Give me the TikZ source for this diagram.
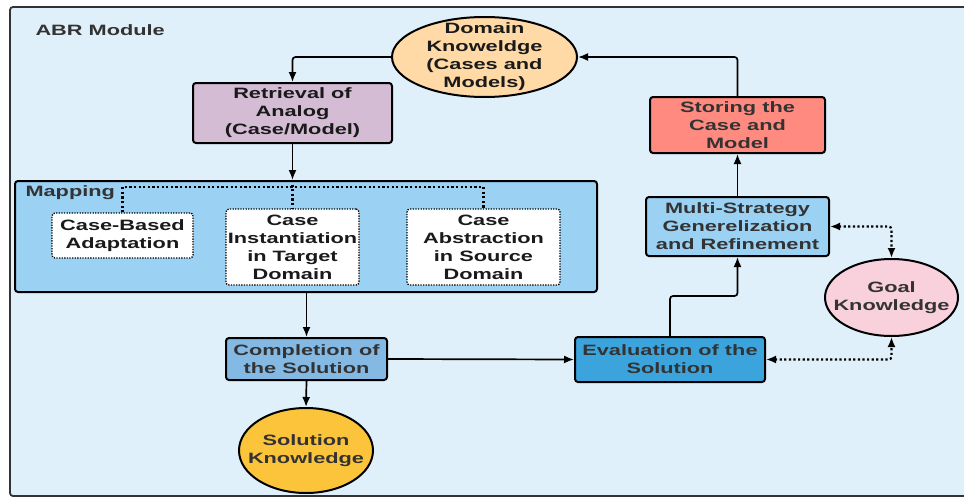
\documentclass[tikz,border=0pt]{standalone}
\usepackage{fontspec}
\setmainfont[FakeStretch=1.45]{Liberation Sans}
\usetikzlibrary{arrows.meta,shapes.geometric}
\definecolor{framefill}{HTML}{E0F0FA}
\definecolor{framedraw}{HTML}{333333}
\definecolor{domfill}{HTML}{FFD9A6}
\definecolor{retfill}{HTML}{D4BCD4}
\definecolor{mapfill}{HTML}{9BD2F4}
\definecolor{storefill}{HTML}{FF8A80}
\definecolor{compfill}{HTML}{84B9E4}
\definecolor{evalfill}{HTML}{3BA4DD}
\definecolor{solfill}{HTML}{FBC43A}
\definecolor{goalfill}{HTML}{F9D1DD}
\definecolor{txtdark}{HTML}{1A1A1A}
\definecolor{txtgrey}{HTML}{333333}
\tikzset{
  boxnode/.style={draw=black, line width=2pt, rounded corners=3pt, align=center, inner sep=0pt},
  ellnode/.style={ellipse, draw=black, line width=2pt, inner sep=0pt},
  elltext/.style={align=center, inner sep=0pt},
  casebox/.style={draw=black, line width=1.3pt, dash pattern=on 1.3pt off 1.3pt, fill=white, rounded corners=3pt, align=center, inner sep=0pt, text=txtdark},
  arr/.style={line width=1.7pt, -{Latex[length=10pt,width=8pt]}, rounded corners=3pt},
  dotarr/.style={line width=2.2pt, dash pattern=on 2.2pt off 2.4pt, {Latex[length=10pt,width=8pt]}-{Latex[length=10pt,width=8pt]}, rounded corners=3pt},
  dotline/.style={line width=2.2pt, dash pattern=on 2.2pt off 2.4pt}
}
\begin{document}
\begin{tikzpicture}[x=1pt,y=-1pt,font=\bfseries\fontsize{15}{18}\selectfont]
\useasboundingbox (0,0) rectangle (964,498);
\clip (0,0) rectangle (964,498);
\fill[white] (0,0) rectangle (964,498);
\draw[line width=1.8pt, draw=framedraw, fill=framefill, rounded corners=3pt] (10,7) rectangle (985,496);
\node[anchor=west, text=txtgrey] (abr) at (32,30) {ABR Module};

\node[ellnode, fill=domfill, minimum width=185pt, minimum height=80pt] (dom) at (484.5,57) {};
\node[elltext, text=txtdark] (domtext) at (dom.center) {Domain\\Knoweldge\\(Cases and\\Models)};
\node[boxnode, fill=retfill, minimum width=199pt, minimum height=60pt, text=txtdark] (ret) at (292.5,113) {Retrieval of\\Analog\\(Case/Model)};
\node[boxnode, fill=storefill, minimum width=175pt, minimum height=56pt, text=txtgrey] (store) at (737.5,125) {Storing the\\Case and\\Model};

\node[boxnode, fill=mapfill, minimum width=582pt, minimum height=111pt] (map) at (306,236.5) {};
\node[anchor=west, text=txtgrey] (maplabel) at (22,193) {Mapping};
\node[casebox, minimum width=141pt, minimum height=45pt] (cb) at (122.5,235.5) {Case-Based\\Adaptation};
\node[casebox, minimum width=133pt, minimum height=76pt] (ci) at (292.5,247) {Case\\Instantiation\\in Target\\Domain};
\node[casebox, minimum width=153pt, minimum height=76pt] (ca) at (483.5,247) {Case\\Abstraction\\in Source\\Domain};
\coordinate (hl) at (0,187);

\node[boxnode, fill=mapfill, minimum width=183pt, minimum height=59pt, text=txtgrey] (multi) at (737.5,226.5) {Multi-Strategy\\Generelization\\and Refinement};
\node[ellnode, fill=goalfill, minimum width=133pt, minimum height=77pt] (goal) at (891.5,297.5) {};
\node[elltext, text=txtgrey] (goaltext) at (goal.center) {Goal\\Knowledge};
\node[boxnode, fill=compfill, minimum width=161pt, minimum height=42pt, text=txtgrey] (comp) at (306.5,359) {Completion of\\the Solution};
\node[boxnode, fill=evalfill, minimum width=190pt, minimum height=45pt, text=txtgrey] (eval) at (670,359.5) {Evaluation of the\\Solution};
\node[ellnode, fill=solfill, minimum width=134pt, minimum height=85pt] (sol) at (306,450.5) {};
\node[elltext, text=txtgrey] (soltext) at (sol.center) {Solution\\Knowledge};

% connectors
\draw[arr] (dom.west) -| (ret.north);
\draw[arr] (ret.south) -- (ret.south |- map.north);
\draw[arr] (store.north) |- (dom.east);
\draw[dotline] (cb.north) -- (cb.north |- hl) -- (ca.north |- hl) -- (ca.north);
\draw[dotline] (ci.north |- map.north) -- (ci.north);
\draw[arr] (comp.north |- map.south) -- (comp.north);
\draw[arr] (comp.south) -- (sol.north);
\draw[arr] (comp.east) -- (eval.west);
\draw[arr] (eval.north) -- ++(0,-40) -| (multi.south);
\draw[arr] (multi.north) -- (store.south);
\draw[dotarr] (multi.east) -| (goal.north);
\draw[dotarr] (eval.east) -| (goal.south);
\end{tikzpicture}
\end{document}
